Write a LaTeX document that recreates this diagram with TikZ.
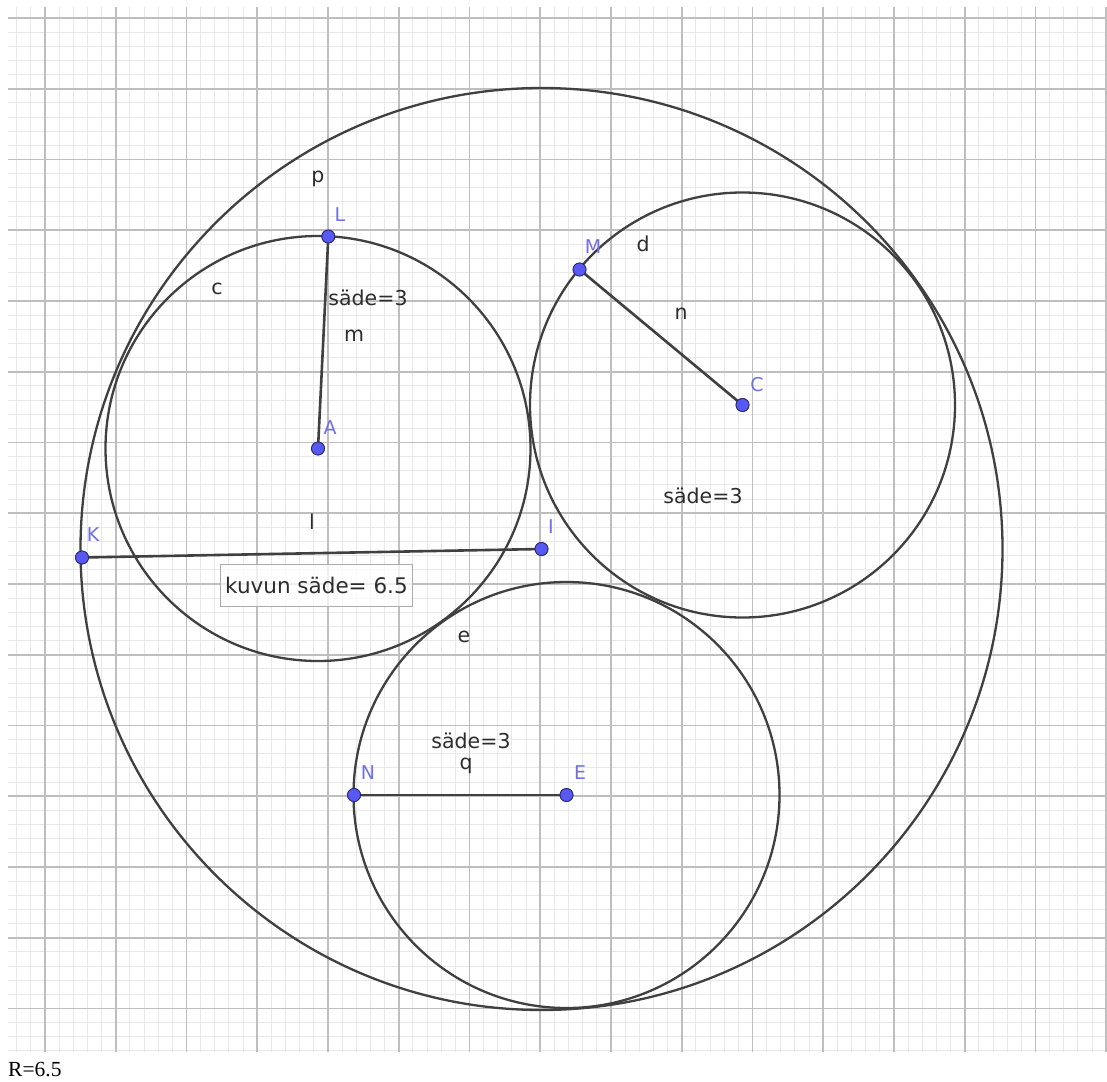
\documentclass[tikz,border=0pt]{standalone}
\usepackage{fontspec}
\setmainfont{DejaVu Sans}
\newfontfamily\serifR{Liberation Serif}
\definecolor{gridmajor}{RGB}{190,190,190}
\definecolor{gridminor}{RGB}{232,232,232}
\definecolor{curve}{RGB}{64,64,64}
\definecolor{ptfill}{RGB}{88,88,242}
\definecolor{ptdraw}{RGB}{40,40,110}
\definecolor{ptlab}{RGB}{112,112,228}
\definecolor{txt}{RGB}{45,45,45}
\tikzset{
  minorgrid/.style={gridminor, line width=1pt},
  majorgrid/.style={gridmajor, line width=1.6pt},
  circ/.style={curve, line width=2.3pt},
  seg/.style={curve, line width=2.6pt},
  pt/.style={circle, fill=ptfill, draw=ptdraw, line width=0.8pt, minimum size=13pt, inner sep=0pt},
  plab/.style={text=ptlab, font=\fontsize{19}{19}\selectfont, inner sep=0pt},
  tlab/.style={text=txt, font=\fontsize{20.5}{20.5}\selectfont, inner sep=0pt},
}
\begin{document}
\begin{tikzpicture}[x=1pt,y=-1pt]
\useasboundingbox (0,0) rectangle (1107,1081);
\fill[white] (0,0) rectangle (1107,1081);
% grid
\begin{scope}
\clip (8,7) rectangle (1107,1052);
\foreach \i in {-3,...,76} { \draw[minorgrid] ({45+\i*14.15},7) -- ({45+\i*14.15},1052); }
\foreach \i in {-1,...,74} { \draw[minorgrid] (8,{18+\i*14.15}) -- (1107,{18+\i*14.15}); }
\foreach \i in {0,...,15} { \draw[majorgrid] ({45+\i*70.75},7) -- ({45+\i*70.75},1052); }
\foreach \i in {0,...,14} { \draw[majorgrid] (8,{18+\i*70.75}) -- (1107,{18+\i*70.75}); }
\end{scope}
% centres
\coordinate (Ac) at (318,448.5);
\coordinate (Cc) at (742.5,405);
\coordinate (Ec) at (566.5,795);
\coordinate (Ic) at (541.5,549);
% circles
\draw[circ] (Ic) circle[radius=461pt];
\draw[circ] (Ac) circle[radius=212.5pt];
\draw[circ] (Cc) circle[radius=212.5pt];
\draw[circ] (Ec) circle[radius=213pt];
% point nodes
\node[pt] (A) at (Ac) {};
\node[pt] (C) at (Cc) {};
\node[pt] (E) at (Ec) {};
\node[pt] (I) at (Ic) {};
\node[pt] (L) at (328.3,236.5) {};
\node[pt] (M) at (579.5,269.5) {};
\node[pt] (K) at (82,557.5) {};
\node[pt] (N) at (354,795) {};
% segments
\draw[seg] (L.center) -- (A.center);
\draw[seg] (M.center) -- (C.center);
\draw[seg] (K.center) -- (I.center);
\draw[seg] (N.center) -- (E.center);
% redraw points on top
\foreach \p in {A,C,E,I,L,M,K,N} { \node[pt] at (\p) {}; }
% point labels
\node[plab] (Llab) at (340,215) {L};
\node[plab] (Mlab) at (593,247) {M};
\node[plab] (Clab) at (757,385) {C};
\node[plab] (Alab) at (330,428) {A};
\node[plab] (Ilab) at (551,527) {I};
\node[plab] (Klab) at (93,535) {K};
\node[plab] (Nlab) at (368,773) {N};
\node[plab] (Elab) at (580,773) {E};
% text labels
\node[tlab] (tp) at (318,179) {p};
\node[tlab] (tc) at (217,289) {c};
\node[tlab] (s1) at (368,298) {säde=3};
\node[tlab] (tm) at (354,336) {m};
\node[tlab] (td) at (643,244) {d};
\node[tlab] (tn) at (681,314) {n};
\node[tlab] (s2) at (703,496) {säde=3};
\node[tlab] (tl) at (312,522) {l};
\node[tlab] (te) at (464,637) {e};
\node[tlab] (s3) at (471,741) {säde=3};
\node[tlab] (tq) at (466,766) {q};
\node[draw={rgb,255:red,170;green,170;blue,170}, line width=1.2pt, fill=white, fill opacity=0.75, text opacity=1, text=txt, font=\fontsize{21.5}{21.5}\selectfont, minimum width=192pt, minimum height=42pt, inner sep=0pt] (box) at (316.5,585.5) {kuvun säde= 6.5};
\node[anchor=west, inner sep=0pt, font=\serifR\fontsize{21.5}{21.5}\selectfont] (R) at (8,1070) {R=6.5};
\end{tikzpicture}
\end{document}
